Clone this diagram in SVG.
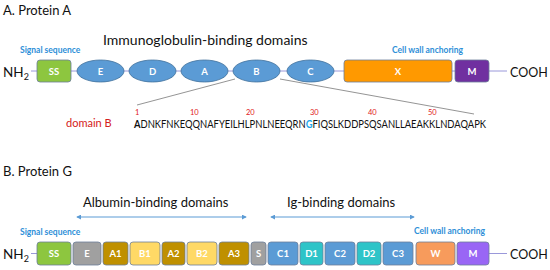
<svg xmlns="http://www.w3.org/2000/svg" width="550" height="270" viewBox="0 0 550 270">
<style>
text{font-family:Lato,"Open Sans","Liberation Sans",sans-serif}
.title{font-size:13px;fill:#111}
.hdr{font-size:14px;fill:#111}
.hdr2{font-size:13px;fill:#111}
.blue{font-size:8.5px;fill:#2E8FD8;font-weight:bold}
.term{font-size:13.5px;fill:#111}
.cooh{font-size:12.5px;fill:#111}
.sub{font-size:9px}
.lbl{font-size:9.5px;fill:#fff;font-weight:bold;text-anchor:middle}
.ell{fill:#5B9BD5;stroke:#41719C;stroke-width:0.8}
.box{stroke:#6D7F9A;stroke-width:0.8}
.bb{stroke:#9A98DA;stroke-width:1;fill:none}
.zoom{stroke:#888;stroke-width:0.9;fill:none}
.arr{stroke:#5B9BD5;stroke-width:1;fill:none;marker-start:url(#ah);marker-end:url(#ah)}
.num{font-size:7.5px;fill:#E02020}
.red{font-size:11px;fill:#D42020}
.seq{font-size:10.5px;fill:#111}
</style>
<defs>
<marker id="ah" viewBox="0 0 6 6" refX="5" refY="3" markerWidth="5" markerHeight="5" orient="auto-start-reverse">
<path d="M0,0 L6,3 L0,6 z" fill="#5B9BD5"/>
</marker>
</defs>

<text class="title" x="3" y="15">A. Protein A</text>
<text class="hdr" x="103" y="45">Immunoglobulin-binding domains</text>
<text class="blue" x="20" y="53">Signal sequence</text>
<text class="blue" x="392" y="53">Cell wall anchoring</text>

<g id="connectors">
<line class="bb" x1="31" y1="71" x2="37" y2="71"/>
<line class="bb" x1="71" y1="71" x2="507" y2="71"/>
<line class="zoom" x1="235" y1="79" x2="137" y2="105"/>
<line class="zoom" x1="280" y1="79" x2="474" y2="114"/>
<line class="bb" x1="31" y1="253.5" x2="37" y2="253.5"/>
<line class="bb" x1="489" y1="253.5" x2="507" y2="253.5"/>
<line class="arr" x1="77" y1="217" x2="246" y2="217"/>
<line class="arr" x1="271" y1="217" x2="414" y2="217"/>
</g>

<text class="term" x="3" y="77">NH<tspan class="sub" dy="3">2</tspan></text>
<text class="cooh" x="510" y="76.5">COOH</text>

<g id="pa-ss"><rect class="box" x="37" y="60" width="34" height="22" rx="3" fill="#8DC63F"/><text class="lbl" x="54" y="74.5">SS</text></g>
<g id="pa-e"><ellipse class="ell" cx="100.5" cy="71" rx="23.5" ry="11"/><text class="lbl" x="100.5" y="74.5">E</text></g>
<g id="pa-d"><ellipse class="ell" cx="152.5" cy="71" rx="23.5" ry="11"/><text class="lbl" x="152.5" y="74.5">D</text></g>
<g id="pa-a"><ellipse class="ell" cx="204.5" cy="71" rx="23.5" ry="11"/><text class="lbl" x="204.5" y="74.5">A</text></g>
<g id="pa-b"><ellipse class="ell" cx="256.5" cy="71" rx="23.5" ry="11"/><text class="lbl" x="256.5" y="74.5">B</text></g>
<g id="pa-c"><ellipse class="ell" cx="310.5" cy="71" rx="23.5" ry="11"/><text class="lbl" x="310.5" y="74.5">C</text></g>
<g id="pa-x"><rect class="box" x="344" y="60" width="108" height="22" rx="3" fill="#FF9900"/><text class="lbl" x="398" y="74.5">X</text></g>
<g id="pa-m"><rect class="box" x="455" y="60" width="34" height="22" rx="3" fill="#7030A0"/><text class="lbl" x="472" y="74.5">M</text></g>

<g id="domainB">
<text class="red" x="66" y="127">domain B</text>
<text class="num" x="135" y="115">1</text>
<text class="num" x="190" y="115">10</text>
<text class="num" x="246" y="115">20</text>
<text class="num" x="310" y="115">30</text>
<text class="num" x="368" y="115">40</text>
<text class="num" x="428" y="115">50</text>
<text class="seq" x="134" y="127.5" textLength="352" lengthAdjust="spacingAndGlyphs"><tspan font-weight="bold">A</tspan>DNKFNKEQQNAFYEILHLPNLNEEQRN<tspan font-weight="bold" fill="#1AA7EC">G</tspan>FIQSLKDDPSQSANLLAEAKKLNDAQAPK</text>
</g>

<text class="title" x="3" y="176">B. Protein G</text>
<text class="hdr2" x="83" y="207">Albumin-binding domains</text>
<text class="hdr2" x="287" y="207">Ig-binding domains</text>
<text class="blue" x="20" y="235">Signal sequence</text>
<text class="blue" x="414" y="234">Cell wall anchoring</text>

<text class="term" x="3" y="259">NH<tspan class="sub" dy="3">2</tspan></text>
<text class="cooh" x="510" y="258.5">COOH</text>

<g id="pg-ss"><rect class="box" x="37" y="242" width="34" height="23" rx="3" fill="#8DC63F"/><text class="lbl" x="54" y="257">SS</text></g>
<g id="pg-e"><rect class="box" x="73" y="242" width="28" height="23" rx="3" fill="#A0A0A0"/><text class="lbl" x="87" y="257">E</text></g>
<g id="pg-a1"><rect class="box" x="103" y="242" width="25" height="23" rx="3" fill="#BF9000"/><text class="lbl" x="115.5" y="257">A1</text></g>
<g id="pg-b1"><rect class="box" x="130" y="242" width="30" height="23" rx="3" fill="#FFD966"/><text class="lbl" x="145" y="257">B1</text></g>
<g id="pg-a2"><rect class="box" x="162" y="242" width="23" height="23" rx="3" fill="#BF9000"/><text class="lbl" x="173.5" y="257">A2</text></g>
<g id="pg-b2"><rect class="box" x="187" y="242" width="30" height="23" rx="3" fill="#FFD966"/><text class="lbl" x="202" y="257">B2</text></g>
<g id="pg-a3"><rect class="box" x="219" y="242" width="30" height="23" rx="3" fill="#BF9000"/><text class="lbl" x="234" y="257">A3</text></g>
<g id="pg-s"><rect class="box" x="251" y="242" width="15" height="23" rx="3" fill="#A0A0A0"/><text class="lbl" x="258.5" y="257">S</text></g>
<g id="pg-c1"><rect class="box" x="268" y="242" width="30" height="23" rx="3" fill="#5B9BD5"/><text class="lbl" x="283" y="257">C1</text></g>
<g id="pg-d1"><rect class="box" x="300" y="242" width="23" height="23" rx="3" fill="#2EC4C8"/><text class="lbl" x="311.5" y="257">D1</text></g>
<g id="pg-c2"><rect class="box" x="325" y="242" width="30" height="23" rx="3" fill="#5B9BD5"/><text class="lbl" x="340" y="257">C2</text></g>
<g id="pg-d2"><rect class="box" x="357" y="242" width="24" height="23" rx="3" fill="#2EC4C8"/><text class="lbl" x="369" y="257">D2</text></g>
<g id="pg-c3"><rect class="box" x="383" y="242" width="30" height="23" rx="3" fill="#5B9BD5"/><text class="lbl" x="398" y="257">C3</text></g>
<g id="pg-w"><rect class="box" x="416" y="242" width="39" height="23" rx="3" fill="#F79B5C"/><text class="lbl" x="435.5" y="257">W</text></g>
<g id="pg-m"><rect class="box" x="457" y="242" width="32" height="23" rx="3" fill="#9966F5"/><text class="lbl" x="473" y="257">M</text></g>
</svg>
